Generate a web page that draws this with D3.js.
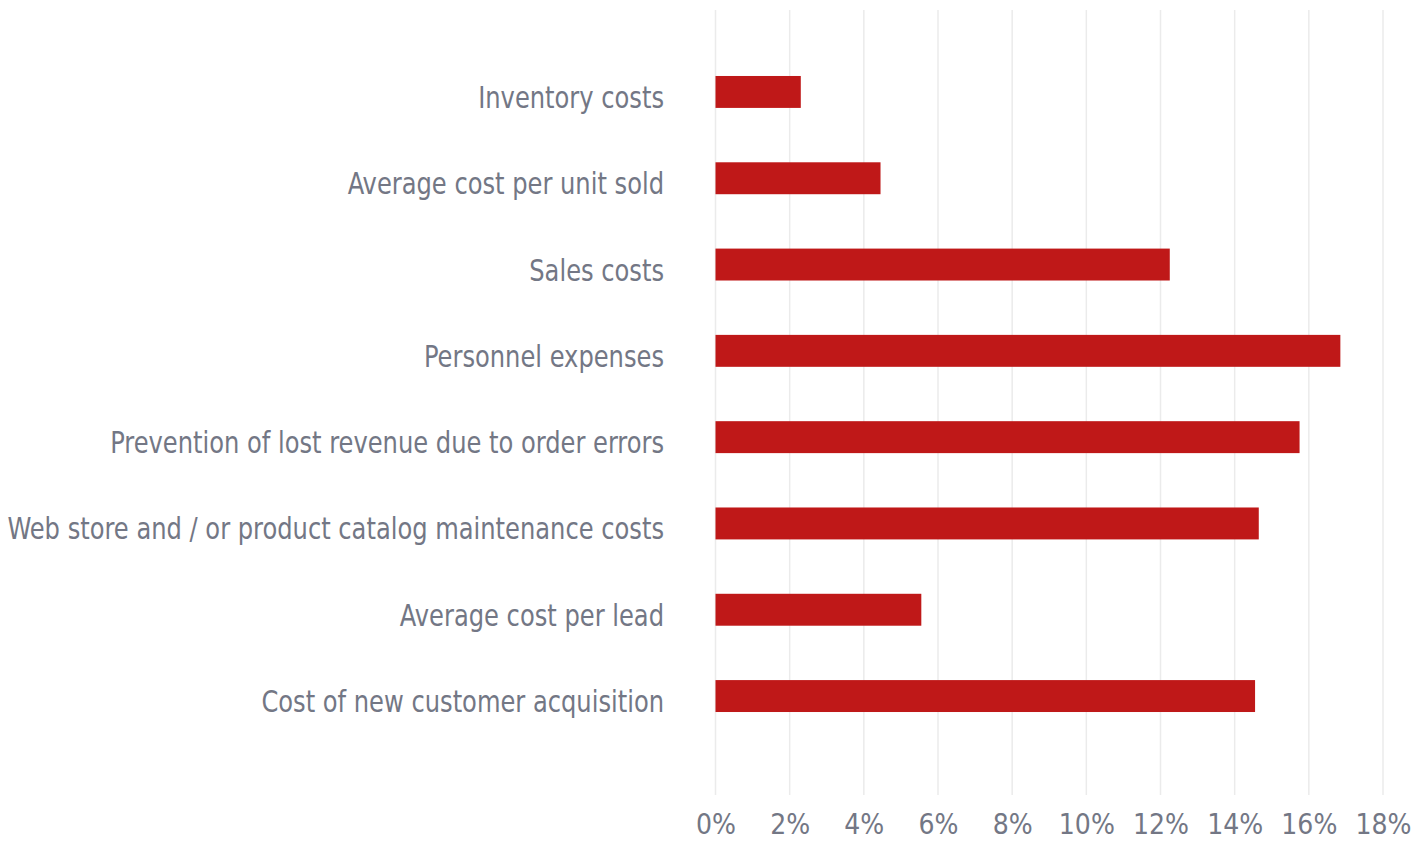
<!DOCTYPE html>
<html>
<head>
<meta charset="utf-8">
<script src="https://cdn.jsdelivr.net/npm/d3@7"></script>
<style>
  body { margin: 0; background: #fff; }
  svg text { font-family: "Liberation Sans Narrow", "DejaVu Sans Condensed", "Roboto", sans-serif; }
</style>
</head>
<body>
<div id="chart"></div>
<script>
const categories = [
    "Inventory costs",
    "Average cost per unit sold",
    "Sales costs",
    "Personnel expenses",
    "Prevention of lost revenue due to order errors",
    "Web store and / or product catalog maintenance costs",
    "Average cost per lead",
    "Cost of new customer acquisition"
];
const values = [2.3, 4.45, 12.25, 16.85, 15.75, 14.65, 5.55, 14.55];
const tickValues = [0, 2, 4, 6, 8, 10, 12, 14, 16, 18];

const W = 1423, H = 842;

const svg = d3.select("#chart").append("svg")
    .attr("width", W)
    .attr("height", H);

const x = d3.scaleLinear()
    .domain([0, 18])
    .range([715.5, 1383]);

const y = d3.scaleBand()
    .domain(categories)
    .range([48.8, 739.2])
    .paddingInner(0.63)
    .paddingOuter(0.315);

//grid lines
svg.append("g")
    .selectAll("line")
    .data(tickValues)
    .join("line")
      .attr("x1", d => x(d))
      .attr("x2", d => x(d))
      .attr("y1", 10)
      .attr("y2", 795)
      .attr("stroke", "#ebebeb")
      .attr("stroke-width", 1.5);

//bars
svg.append("g")
    .selectAll("rect")
    .data(values)
    .join("rect")
      .attr("x", x(0))
      .attr("y", (d, i) => y(categories[i]))
      .attr("width", d => x(d) - x(0))
      .attr("height", y.bandwidth())
      .attr("fill", "#bf1818");

//category labels (condensed look via horizontal scale)
svg.append("g")
    .selectAll("text")
    .data(categories)
    .join("text")
      .attr("transform", d => `translate(664, ${y(d) + y.bandwidth() / 2 + 16}) scale(0.867, 1)`)
      .attr("text-anchor", "end")
      .attr("fill", "#737785")
      .style("font-size", "31px")
      .text(d => d);

//x tick labels
const xAxis = svg.append("g")
    .attr("transform", "translate(0, 834)")
    .call(d3.axisBottom(x)
        .tickValues(tickValues)
        .tickFormat(d => d + "%")
        .tickSize(0)
        .tickPadding(0));

xAxis.select(".domain").remove();
xAxis.selectAll("text")
    .attr("fill", "#737785")
    .attr("y", 0)
    .attr("dy", 0)
    .style("font-size", "28px");
</script>
</body>
</html>
